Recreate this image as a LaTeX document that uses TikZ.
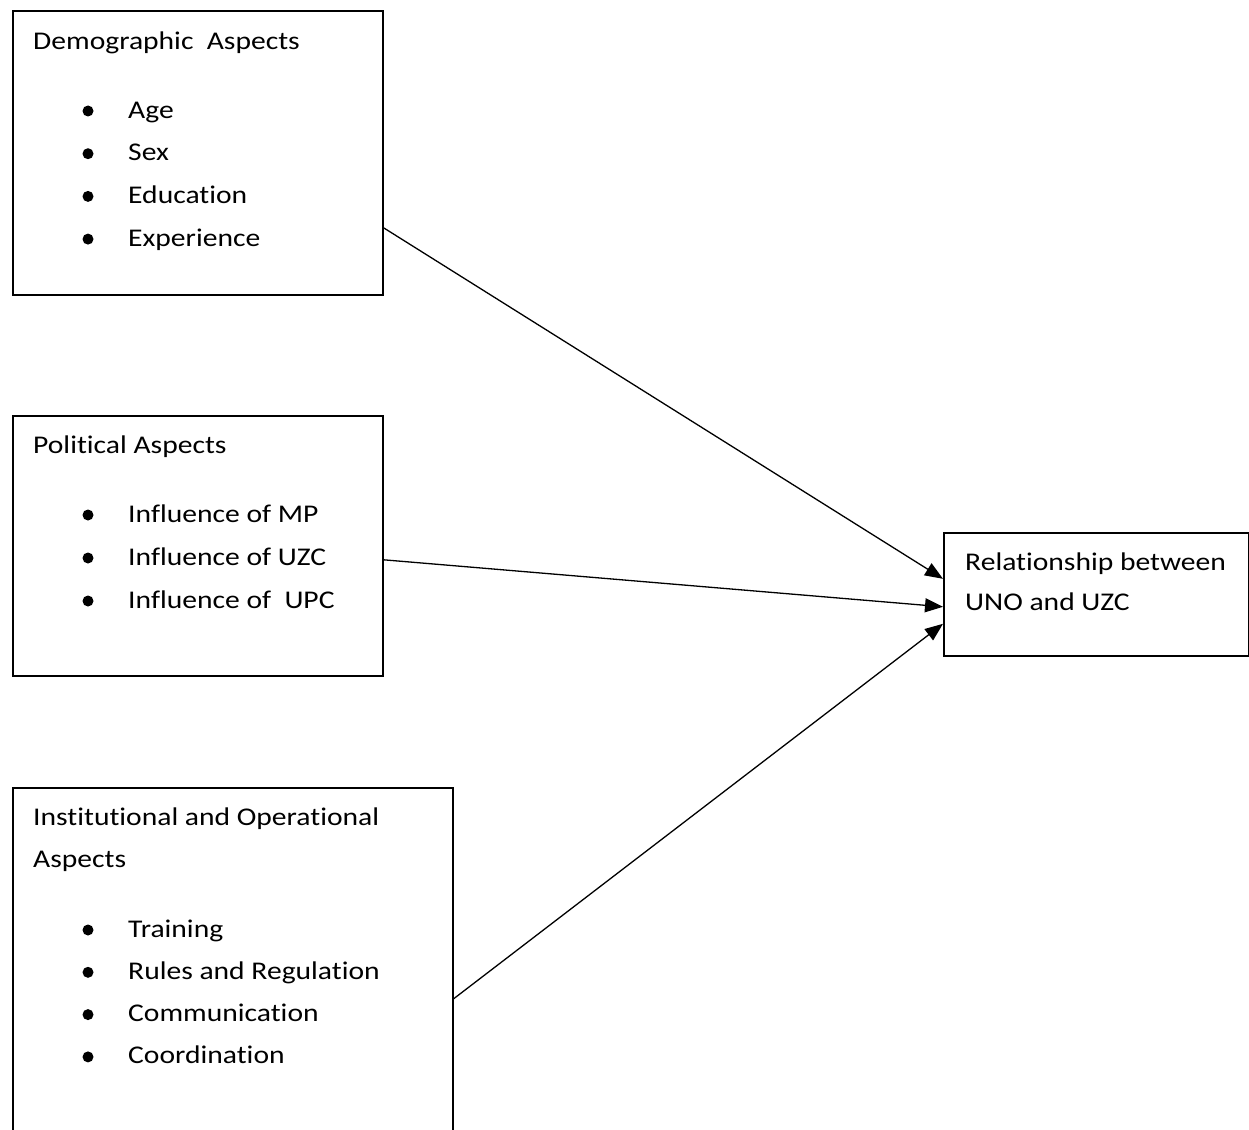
\documentclass[tikz,border=0pt]{standalone}
\usepackage{fontspec}
\setmainfont[FakeStretch=1.16,Ligatures=NoCommon]{Carlito}
\usetikzlibrary{arrows.meta}

\tikzset{
  box/.style={draw,line width=1.6pt,anchor=north west,inner sep=0pt},
  txt/.style={anchor=base west,inner sep=0pt,font=\fontsize{25.5}{41}\selectfont},
  dot/.style={circle,fill,inner sep=0pt,minimum size=11pt},
  link/.style={line width=1.3pt,-{Triangle[length=18pt,width=14pt]}}
}

\begin{document}
\begin{tikzpicture}[x=1pt,y=1pt]
  \useasboundingbox (0,0) rectangle (1249,-1129);
  % boxes
  \node[box,minimum width=370pt,minimum height=284pt] (demo) at (12,-10) {};
  \node[box,minimum width=370pt,minimum height=260pt] (poli) at (12,-415) {};
  \node[box,minimum width=440pt,minimum height=360pt] (inst) at (12,-787) {};
  \node[box,minimum width=305pt,minimum height=123pt] (rel) at (943,-532) {};
  % demographic
  \node[txt] (demotitle) at (33,-50) {Demographic\ \ Aspects};
  \foreach \t [count=\i] in {Age,Sex,Education,Experience} {
    \node[dot] (demodot\i) at (88,{-111-42.7*(\i-1)}) {};
    \node[txt] (demoitem\i) at (128,{-118-42.7*(\i-1)}) {\t};
  }
  % political
  \node[txt] (polititle) at (33,-453) {Political Aspects};
  \foreach \t [count=\i] in {Influence of MP,Influence of UZC,Influence of\ \ UPC} {
    \node[dot] (polidot\i) at (88,{-515-43*(\i-1)}) {};
    \node[txt] (poliitem\i) at (128,{-522-43*(\i-1)}) {\t};
  }
  % institutional
  \node[txt] (insttitle) at (33,-825) {Institutional and Operational};
  \node[txt] (insttitleb) at (33,-867) {Aspects};
  \foreach \t [count=\i] in {Training,Rules and Regulation,Communication,Coordination} {
    \node[dot] (instdot\i) at (88,{-930-42.3*(\i-1)}) {};
    \node[txt] (institem\i) at (128,{-937-42.3*(\i-1)}) {\t};
  }
  % outcome
  \node[txt] (reltitle) at (965,-570) {Relationship between};
  \node[txt] (reltitleb) at (965,-610) {UNO and UZC};
  % links
  \draw[link] ([yshift=-75pt]demo.east) -- ([yshift=15.5pt]rel.west);
  \draw[link] ([yshift=-14pt]poli.east) -- ([yshift=-12.5pt]rel.west);
  \draw[link] ([yshift=-31pt]inst.east) -- ([yshift=-29.5pt]rel.west);
\end{tikzpicture}
\end{document}
